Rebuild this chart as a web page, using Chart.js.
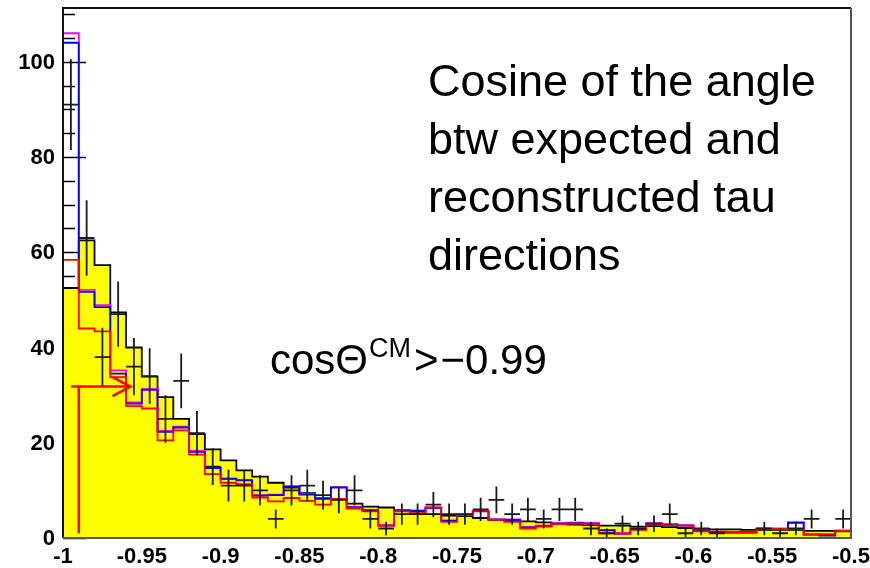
<!DOCTYPE html>
<html>
<head>
<meta charset="utf-8">
<script src="https://cdn.jsdelivr.net/npm/chart.js@4/dist/chart.umd.min.js"></script>
<style>
  html, body { margin: 0; padding: 0; background: #ffffff; }
  canvas { display: block; }
</style>
</head>
<body>
<canvas id="c" width="870" height="568"></canvas>
<script>
// Histogram binning: 50 bins of cos(angle) between -1 and -0.5
const nBins = 50;
const xMin = -1;
const xMax = -0.5;
const binEdges = [];
for (let i = 0; i <= nBins; i++) binEdges.push(xMin + (xMax - xMin) * i / nBins);

// Total expectation (yellow, black outline)
const mcTotal = [
  52.5, 62.5, 57.3, 47.4, 40.0, 33.9, 29.6, 25.0, 21.8, 18.6,
  16.3, 14.2, 12.9, 11.6, 10.6, 9.4, 8.3, 8.1, 7.2, 6.6,
  6.4, 5.7, 5.6, 5.0, 4.7, 4.6, 4.2, 3.9, 3.6, 3.5,
  3.3, 3.0, 2.8, 2.7, 2.6, 2.6, 2.4, 2.5, 2.3, 2.1,
  1.9, 1.8, 1.8, 1.7, 1.7, 1.7, 1.7, 1.5, 1.5, 1.4
];

// Magenta outline
const magentaHist = [
  106.0, 52.1, 48.9, 35.2, 28.5, 31.3, 22.5, 23.4, 18.3, 14.8,
  12.5, 12.2, 9.0, 9.1, 10.9, 9.2, 8.4, 10.7, 6.5, 5.9,
  2.7, 5.9, 5.8, 6.4, 3.7, 4.9, 5.7, 3.9, 3.9, 2.3,
  2.6, 3.1, 3.2, 3.1, 1.7, 1.0, 1.9, 3.1, 2.9, 2.7,
  1.6, 1.4, 1.3, 1.3, 2.0, 2.0, 3.3, 0.8, 0.6, 1.6
];

// Blue outline
const blueHist = [
  104.0, 51.7, 48.5, 34.5, 28.2, 31.1, 22.3, 23.2, 18.1, 14.7,
  12.4, 12.1, 8.9, 9.0, 10.8, 9.1, 8.3, 10.6, 6.4, 5.8,
  2.6, 5.8, 5.7, 6.3, 3.6, 4.8, 5.6, 3.8, 3.8, 2.2,
  2.5, 3.0, 3.1, 3.0, 1.6, 0.9, 1.8, 3.0, 2.8, 2.6,
  1.5, 1.3, 1.2, 1.2, 1.9, 1.9, 3.2, 0.7, 0.5, 1.5
];

// Red outline
const redHist = [
  58.4, 44.0, 43.4, 33.8, 27.7, 27.2, 20.5, 22.6, 17.5, 13.4,
  11.6, 11.3, 8.5, 7.7, 8.4, 7.8, 7.0, 8.2, 6.2, 5.6,
  2.6, 5.6, 5.2, 6.4, 3.4, 4.8, 5.7, 3.8, 3.4, 2.0,
  2.4, 2.9, 3.0, 2.9, 1.0, 0.9, 1.7, 2.9, 2.7, 2.6,
  1.4, 1.2, 1.1, 1.1, 1.9, 1.9, 1.9, 0.7, 0.8, 1.5
];

// Observed counts (drawn as crosses with Poisson errors; empty bins skipped)
const dataCounts = [
  91, 63, 38, 47, 36, 34, 25, 33, 22, 15,
  11, 11, 10, 4, 10, 11, 9, 8, 10, 4,
  2, 5, 5, 7, 5, 5, 6, 8, 5, 6,
  4, 6, 6, 2, 1, 3, 2, 3, 5, 1,
  2, 1, 0, 0, 2, 1, 2, 4, 0, 4
];

// Axis ticks
const yMax = 111.3;
const yMajorTicks = [0, 20, 40, 60, 80, 100];
const yMinorTicks = [5, 10, 15, 25, 30, 35, 45, 50, 55, 65, 70, 75, 85, 90, 95, 105, 110];
const xTickValues = [-1, -0.95, -0.9, -0.85, -0.8, -0.75, -0.7, -0.65, -0.6, -0.55, -0.5];
const xTickLabels = ['-1', '-0.95', '-0.9', '-0.85', '-0.8', '-0.75', '-0.7', '-0.65', '-0.6', '-0.55', '-0.5'];

// Cut marker: cos(theta_CM) > -0.99
const cutX = -0.99;
const cutArrowY = 31.8;
const cutLineBottom = 1.0;
const cutArrowStart = -0.9948;
const cutArrowTip = -0.9573;
const cutHeadBack = -0.9686;
const cutHeadHalf = 2.0;

const noteLines = ['Cosine of the angle', 'btw expected and', 'reconstructed tau', 'directions'];

function stepPoints(values) {
  const pts = values.map((v, i) => ({ x: binEdges[i], y: v }));
  pts.push({ x: binEdges[nBins], y: values[nBins - 1] });
  return pts;
}

function crossPoints(counts) {
  const pts = [];
  counts.forEach((n, i) => {
    if (n <= 0) return;
    const lo = binEdges[i], hi = binEdges[i + 1];
    const c = (lo + hi) / 2;
    const err = Math.sqrt(n);
    pts.push({ x: lo, y: n }, { x: hi, y: n }, { x: c, y: null },
             { x: c, y: n - err }, { x: c, y: n + err }, { x: c, y: null });
  });
  return pts;
}

const arrowPoints = [
  { x: cutX, y: cutLineBottom }, { x: cutX, y: cutArrowY }, { x: cutX, y: null },
  { x: cutArrowStart, y: cutArrowY }, { x: cutArrowTip, y: cutArrowY }, { x: cutArrowTip, y: null },
  { x: cutHeadBack, y: cutArrowY + cutHeadHalf }, { x: cutArrowTip, y: cutArrowY },
  { x: cutHeadBack, y: cutArrowY - cutHeadHalf }
];

// lower "order" is painted on top
function histLine(values, color, width, order) {
  return {
    data: stepPoints(values), stepped: 'before', borderColor: color,
    borderWidth: width, fill: false, pointRadius: 0, tension: 0, order
  };
}

// Y ticks go under the histograms, as in ROOT
const ticksUnder = {
  id: 'ticksUnder',
  beforeDatasetsDraw(chart) {
    const { ctx, chartArea, scales } = chart;
    const y = scales.y;
    ctx.save();
    ctx.strokeStyle = '#000';
    ctx.lineWidth = 1.6;
    ctx.beginPath();
    yMajorTicks.forEach(v => {
      const py = Math.round(y.getPixelForValue(v)) + 0.5;
      ctx.moveTo(chartArea.left, py); ctx.lineTo(chartArea.left + 23, py);
    });
    yMinorTicks.forEach(v => {
      const py = Math.round(y.getPixelForValue(v)) + 0.5;
      ctx.moveTo(chartArea.left, py); ctx.lineTo(chartArea.left + 12, py);
    });
    ctx.stroke();
    ctx.restore();
  }
};

// Frame, tick labels and text notes
const frameAndText = {
  id: 'frameAndText',
  afterDraw(chart) {
    const { ctx, chartArea, scales } = chart;
    const { left, right, top, bottom } = chartArea;
    ctx.save();
    ctx.lineWidth = 2;
    ctx.strokeStyle = '#111';
    ctx.beginPath();
    ctx.moveTo(left, bottom); ctx.lineTo(left, top); ctx.lineTo(right, top);
    ctx.stroke();
    ctx.strokeStyle = '#555';
    ctx.beginPath();
    ctx.moveTo(right, top); ctx.lineTo(right, bottom); ctx.lineTo(left, bottom);
    ctx.stroke();

    ctx.fillStyle = '#000';
    ctx.font = "bold 22px 'Liberation Sans', Arial, sans-serif";
    ctx.textAlign = 'right';
    ctx.textBaseline = 'middle';
    yMajorTicks.forEach(v => {
      ctx.fillText(String(v), left - 8, scales.y.getPixelForValue(v) + 1);
    });
    ctx.textAlign = 'center';
    ctx.textBaseline = 'alphabetic';
    xTickValues.forEach((v, i) => {
      ctx.fillText(xTickLabels[i], scales.x.getPixelForValue(v), bottom + 25);
    });

    ctx.textAlign = 'left';
    ctx.font = "45px 'Liberation Sans', Arial, sans-serif";
    noteLines.forEach((t, i) => ctx.fillText(t, 428, 96 + i * 58));

    // cos(Theta)^CM > -0.99
    let x = 270;
    const base = 374;
    ctx.font = "42px 'Liberation Sans', Arial, sans-serif";
    ctx.fillText('cosΘ', x, base);
    x += ctx.measureText('cosΘ').width + 1;
    ctx.font = "27px 'Liberation Sans', Arial, sans-serif";
    ctx.fillText('CM', x, base - 17);
    x += ctx.measureText('CM').width + 3;
    ctx.font = "42px 'Liberation Sans', Arial, sans-serif";
    ctx.fillText('>', x, base);
    x += ctx.measureText('>').width + 2;
    ctx.fillText('−0.99', x, base);
    ctx.restore();
  }
};

new Chart(document.getElementById('c').getContext('2d'), {
  type: 'line',
  data: {
    datasets: [
      {
        data: stepPoints(mcTotal), stepped: 'before', borderColor: '#000',
        borderWidth: 1.8, backgroundColor: '#ffff00', fill: 'origin', pointRadius: 0, order: 6
      },
      histLine(magentaHist, '#ff00ff', 1.8, 5),
      histLine(blueHist, '#0000ff', 1.8, 4),
      histLine(redHist, '#ff0000', 1.8, 3),
      {
        data: crossPoints(dataCounts), borderColor: '#1a1a1a', borderWidth: 1.8,
        fill: false, pointRadius: 0, spanGaps: false, order: 2
      },
      {
        data: arrowPoints, borderColor: '#ff0000', borderWidth: 2.6,
        fill: false, pointRadius: 0, spanGaps: false, order: 1
      }
    ]
  },
  options: {
    responsive: false,
    animation: false,
    devicePixelRatio: 1,
    layout: { padding: { left: 63, right: 19, top: 8, bottom: 30 } },
    scales: {
      x: { type: 'linear', min: xMin, max: xMax, display: false },
      y: { type: 'linear', min: 0, max: yMax, display: false }
    },
    plugins: { legend: { display: false }, tooltip: { enabled: false } },
    elements: { point: { radius: 0 }, line: { capBezierPoints: false } }
  },
  plugins: [ticksUnder, frameAndText]
});
</script>
</body>
</html>
